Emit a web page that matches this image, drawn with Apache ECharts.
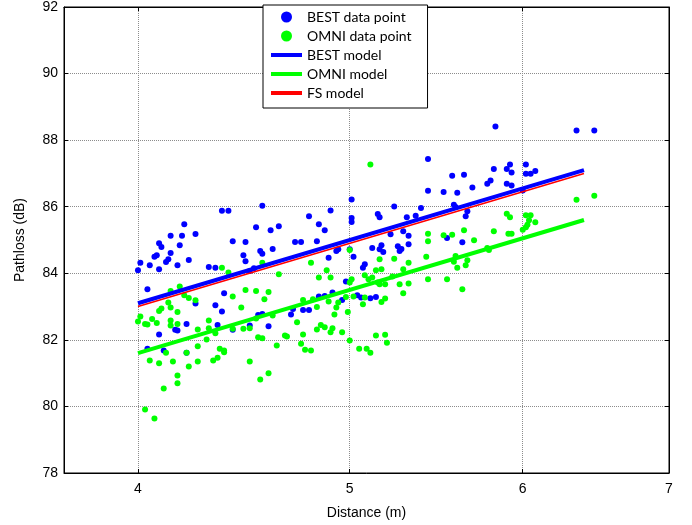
<!DOCTYPE html>
<html>
<head>
<meta charset="utf-8">
<script src="https://cdn.jsdelivr.net/npm/echarts@6/dist/echarts.min.js"></script>
<style>
html, body { margin: 0; padding: 0; background: #fff; }
#chart { width: 692px; height: 525px; }
</style>
</head>
<body>
<div id="chart"></div>
<script>
// measured points: [distance (m), pathloss (dB)]
var bestPoints = [
  [4.37,85.88],[4.40,85.88],[4.56,86.03],[4.20,85.47],[4.53,85.38],[4.60,85.29],[4.64,85.41],[4.14,85.13],
  [4.19,85.13],[4.25,85.18],[5.43,87.43],[5.43,86.48],[5.52,86.44],[5.01,86.22],[5.24,86.01],[5.39,85.96],
  [4.90,85.89],[4.79,85.71],[5.15,85.78],[5.16,85.68],[5.01,85.66],[5.01,85.54],[5.31,85.68],[5.36,85.73],
  [4.84,85.47],[4.87,85.29],[5.22,85.17],[5.29,85.26],[5.32,85.13],[5.83,88.41],[6.35,88.29],[6.47,88.29],
  [5.92,87.27],[5.90,87.13],[5.93,87.03],[5.82,87.13],[6.02,87.27],[6.02,86.99],[6.05,86.99],[6.08,87.07],
  [5.57,86.93],[5.64,86.96],[5.80,86.79],[5.78,86.69],[5.90,86.69],[5.93,86.64],[5.69,86.58],[5.60,86.42],
  [5.58,86.06],[5.59,85.99],[5.66,85.86],[5.65,85.71],[6.00,86.49],[4.09,84.90],[4.10,84.79],[4.18,84.84],
  [4.14,84.61],[4.07,84.50],[4.08,84.54],[4.12,84.34],[4.13,84.42],[4.22,84.40],[4.01,84.32],[4.00,84.09],
  [4.05,84.24],[4.09,84.12],[4.17,84.24],[4.31,84.19],[4.34,84.17],[4.42,84.96],[4.48,84.94],[4.47,84.54],
  [4.48,84.36],[4.52,84.15],[4.55,84.67],[4.56,84.59],[4.61,84.73],[4.50,84.07],[4.04,83.52],[4.25,83.09],
  [4.34,83.04],[4.37,82.85],[4.38,83.40],[4.54,82.75],[4.56,82.78],[4.59,82.41],[4.50,82.43],[4.21,82.48],
  [4.16,82.30],[4.17,82.28],[4.09,82.16],[4.42,82.30],[4.35,82.45],[4.04,81.73],[4.11,81.68],[4.21,81.61],
  [4.72,84.94],[4.75,84.94],[4.83,84.96],[4.89,84.47],[4.93,84.67],[4.94,84.72],[5.00,84.72],[5.02,84.50],
  [5.12,84.76],[5.16,84.72],[5.18,84.64],[5.17,84.84],[5.26,84.81],[5.28,84.73],[5.27,84.67],[5.32,84.87],
  [5.08,84.27],[5.07,84.17],[4.98,83.75],[4.91,83.42],[4.87,83.32],[4.84,83.30],[4.96,83.20],[5.04,83.34],
  [5.06,83.27],[5.11,83.25],[5.14,83.29],[4.71,82.93],[4.76,82.90],[4.79,82.90],[4.70,82.76],[5.54,85.06],
  [5.63,84.93]
];
var omniPoints = [
  [5.11,87.27],[5.43,85.19],[5.52,85.14],[6.35,86.21],[6.47,86.33],[5.90,85.79],[5.92,85.68],[6.02,85.74],
  [6.05,85.74],[6.04,85.59],[6.03,85.46],[6.02,85.38],[6.08,85.53],[5.64,85.29],[5.82,85.26],[5.91,85.19],
  [5.93,85.19],[5.57,85.16],[6.00,85.31],[4.37,84.17],[4.40,84.02],[4.56,84.32],[4.14,83.47],[4.18,83.60],
  [4.20,83.34],[4.22,83.26],[4.25,83.19],[4.10,82.94],[4.09,82.87],[4.13,83.12],[4.14,82.97],[4.17,82.84],
  [4.01,82.70],[4.00,82.55],[4.03,82.48],[4.04,82.46],[4.06,82.63],[4.08,82.51],[4.14,82.58],[4.14,82.43],
  [4.17,82.48],[4.31,82.58],[4.26,82.31],[4.31,82.35],[4.34,82.20],[4.30,82.01],[4.42,82.33],[4.47,82.33],
  [4.42,83.30],[4.46,82.97],[4.48,83.50],[4.53,83.47],[4.59,83.44],[4.57,83.22],[4.64,83.97],[4.61,82.73],
  [4.53,82.64],[4.50,82.35],[4.54,82.08],[4.56,82.05],[4.63,81.83],[4.67,82.13],[4.12,81.61],[4.26,81.81],
  [4.36,81.73],[4.38,81.68],[4.38,81.63],[4.21,81.61],[5.00,84.70],[5.43,84.96],[4.80,84.32],[4.88,84.09],
  [4.84,83.87],[4.90,83.87],[5.16,84.42],[5.24,84.44],[5.32,84.32],[5.42,84.50],[5.29,84.12],[5.14,84.09],
  [5.17,84.12],[5.08,83.94],[5.10,83.82],[5.12,83.87],[5.01,83.82],[5.00,83.72],[5.15,83.72],[5.16,83.67],
  [5.19,83.67],[5.23,83.90],[5.27,83.67],[5.32,83.69],[5.43,83.82],[5.29,83.40],[5.19,83.24],[5.17,83.14],
  [5.08,83.27],[5.07,83.07],[5.02,83.30],[4.98,83.29],[4.94,83.12],[4.89,83.15],[4.93,82.97],[4.83,82.99],
  [4.76,83.20],[4.81,83.22],[4.99,82.84],[4.92,82.76],[4.73,82.53],[4.85,82.45],[4.87,82.38],[4.91,82.35],
  [4.83,82.31],[4.90,82.23],[4.96,82.23],[4.76,82.16],[4.68,82.10],[5.14,82.13],[5.19,82.15],[5.00,81.98],
  [5.20,81.91],[4.75,81.88],[4.77,81.70],[4.80,81.68],[5.05,81.73],[5.09,81.73],[5.11,81.61],[5.70,84.99],
  [5.59,84.52],[5.58,84.35],[5.66,84.39],[5.65,84.24],[5.60,84.17],[5.78,84.76],[5.79,84.70],[5.54,83.82],
  [5.63,83.52],[4.05,81.38],[4.09,81.30],[4.15,81.35],[4.26,81.35],[4.22,81.20],[4.17,80.93],[4.17,80.70],
  [4.11,80.54],[4.03,79.91],[4.07,79.64],[4.33,81.38],[4.35,81.46],[4.50,81.35],[4.55,80.81],[4.59,81.00]
];

// fitted models (end points)
var modelDist = [4.0, 6.4];
var bestModel = [83.1, 87.1];
var omniModel = [81.6, 85.6];
var fsModel = [83.0, 87.0];

var xTicks = [4, 5, 6, 7];
var xRange = [3.7, 7];
var yRange = [78, 92];

function lg(d) { return Math.log10(d); }
function toXY(p) { return [lg(p[0]), p[1]]; }
function modelLine(vals) {
  return modelDist.map(function (d, i) { return [lg(d), vals[i]]; });
}

var xTickVals = xTicks.map(lg);
var axisFont = 'Liberation Sans';
var lineIcon = 'path://M0,0L31,0L31,4L0,4Z';
var gridLine = { show: true, lineStyle: { color: '#8c8c8c', type: 'dotted', width: 1 } };
var black = { color: '#000', width: 1 };

var myChart = echarts.init(document.getElementById('chart'));
var option = {
  animation: false,
  backgroundColor: '#fff',
  grid: {
    left: 64, right: 23, top: 5, bottom: 52,
    show: true, borderColor: '#000', borderWidth: 1
  },
  legend: {
    orient: 'vertical',
    left: 263, top: 5,
    padding: [5, 16, 8, 8],
    itemGap: 5,
    itemWidth: 31,
    itemHeight: 11,
    itemTextGap: 10,
    backgroundColor: '#fff',
    borderColor: '#000',
    borderWidth: 1,
    textStyle: { fontFamily: 'Lato', fontSize: 14, color: '#000' },
    data: [
      { name: 'BEST data point', icon: 'circle' },
      { name: 'OMNI data point', icon: 'circle' },
      { name: 'BEST model', icon: lineIcon },
      { name: 'OMNI model', icon: lineIcon },
      { name: 'FS model', icon: lineIcon }
    ]
  },
  xAxis: [
    {
      type: 'value',
      min: lg(xRange[0]), max: lg(xRange[1]),
      axisLine: { show: true, onZero: false, lineStyle: black },
      axisTick: { show: true, inside: true, length: 4, customValues: xTickVals, lineStyle: black },
      axisLabel: {
        customValues: xTickVals,
        formatter: function (v) { return Math.round(Math.pow(10, v)); },
        color: '#000', fontFamily: axisFont, fontSize: 14, margin: 9
      },
      splitLine: gridLine,
      name: 'Distance (m)', nameLocation: 'middle', nameGap: 33,
      nameTextStyle: { color: '#000', fontFamily: axisFont, fontSize: 14 }
    },
    {
      type: 'value', position: 'top',
      min: lg(xRange[0]), max: lg(xRange[1]),
      axisLine: { show: true, onZero: false, lineStyle: black },
      axisTick: { show: true, inside: true, length: 4, customValues: xTickVals, lineStyle: black },
      axisLabel: { show: false },
      splitLine: { show: false }
    }
  ],
  yAxis: [
    {
      type: 'value',
      min: yRange[0], max: yRange[1], interval: 2,
      axisLine: { show: true, onZero: false, lineStyle: black },
      axisTick: { show: true, inside: true, length: 4, lineStyle: black },
      axisLabel: { color: '#000', fontFamily: axisFont, fontSize: 14, margin: 6 },
      splitLine: gridLine,
      name: 'Pathloss (dB)', nameLocation: 'middle', nameGap: 37,
      nameTextStyle: { color: '#000', fontFamily: axisFont, fontSize: 14 }
    },
    {
      type: 'value', position: 'right',
      min: yRange[0], max: yRange[1], interval: 2,
      axisLine: { show: true, onZero: false, lineStyle: black },
      axisTick: { show: true, inside: true, length: 4, lineStyle: black },
      axisLabel: { show: false },
      splitLine: { show: false }
    }
  ],
  series: [
    {
      name: 'BEST data point', type: 'scatter',
      data: bestPoints.map(toXY),
      symbolSize: 6,
      itemStyle: { color: '#0000ff', opacity: 1 }
    },
    {
      name: 'OMNI data point', type: 'scatter',
      data: omniPoints.map(toXY),
      symbolSize: 6,
      itemStyle: { color: '#00ff00', opacity: 1 }
    },
    {
      name: 'BEST model', type: 'line',
      data: modelLine(bestModel),
      symbol: 'none', z: 3,
      lineStyle: { color: '#0000ff', width: 4 },
      itemStyle: { color: '#0000ff' }
    },
    {
      name: 'OMNI model', type: 'line',
      data: modelLine(omniModel),
      symbol: 'none', z: 3,
      lineStyle: { color: '#00ff00', width: 4 },
      itemStyle: { color: '#00ff00' }
    },
    {
      name: 'FS model', type: 'line',
      data: modelLine(fsModel),
      symbol: 'none', z: 4,
      lineStyle: { color: '#ff0000', width: 1.5 },
      itemStyle: { color: '#ff0000' }
    }
  ]
};
myChart.setOption(option);
</script>
</body>
</html>
